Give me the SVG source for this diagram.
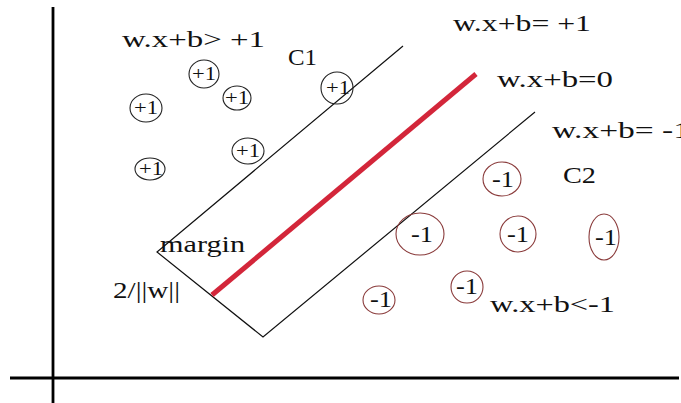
<svg xmlns="http://www.w3.org/2000/svg" width="681" height="403" viewBox="0 0 681 403">
<style>
text{font-family:"Liberation Serif","Times New Roman",serif;fill:#111}
.lbl{font-size:24px}
.pos ellipse{fill:none;stroke:#222;stroke-width:1.1}
.neg ellipse{fill:none;stroke:#8a3b3b;stroke-width:1.1}
.pos text{font-size:18px;text-anchor:middle}
.neg text{font-size:23px;text-anchor:middle}
.thin{stroke:#111;stroke-width:1.2;fill:none}
.axis{stroke:#000;stroke-width:2.8}
</style>
<rect width="681" height="403" fill="#fff"/>
<g id="axes">
<line class="axis" x1="53" y1="7" x2="53" y2="403"/>
<line class="axis" x1="10" y1="378" x2="679" y2="378"/>
</g>
<g id="connectors">
<polyline class="thin" points="403,46 157,252 263,337 535,112"/>
<line x1="212" y1="295" x2="476" y2="74" stroke="#d3263a" stroke-width="5"/>
</g>
<g id="labels">
<text class="lbl" x="122" y="47" textLength="143" lengthAdjust="spacingAndGlyphs">w.x+b&gt; +1</text>
<text class="lbl" x="288" y="65" textLength="29" lengthAdjust="spacingAndGlyphs">C1</text>
<text class="lbl" x="453" y="31" textLength="138" lengthAdjust="spacingAndGlyphs">w.x+b= +1</text>
<text class="lbl" x="497" y="87" textLength="116" lengthAdjust="spacingAndGlyphs">w.x+b=0</text>
<text class="lbl" x="552" y="138" textLength="138" lengthAdjust="spacingAndGlyphs">w.x+b= -1</text>
<text class="lbl" x="563" y="183" textLength="33" lengthAdjust="spacingAndGlyphs">C2</text>
<text class="lbl" x="160" y="252" textLength="85" lengthAdjust="spacingAndGlyphs">margin</text>
<text class="lbl" x="113" y="298" textLength="67" lengthAdjust="spacingAndGlyphs">2/||w||</text>
<text class="lbl" x="490" y="312" textLength="125" lengthAdjust="spacingAndGlyphs">w.x+b&lt;-1</text>
</g>
<g class="pos">
<g id="p1"><ellipse cx="204" cy="74" rx="15" ry="14"/><text x="204" y="80" textLength="24" lengthAdjust="spacingAndGlyphs">+1</text></g>
<g id="p2"><ellipse cx="237" cy="98" rx="14" ry="12"/><text x="237" y="104" textLength="24" lengthAdjust="spacingAndGlyphs">+1</text></g>
<g id="p3"><ellipse cx="146" cy="108" rx="16" ry="14"/><text x="146" y="114" textLength="24" lengthAdjust="spacingAndGlyphs">+1</text></g>
<g id="p4"><ellipse cx="248" cy="151" rx="16" ry="13"/><text x="248" y="157" textLength="24" lengthAdjust="spacingAndGlyphs">+1</text></g>
<g id="p5"><ellipse cx="150" cy="169" rx="15" ry="11"/><text x="151" y="175" textLength="24" lengthAdjust="spacingAndGlyphs">+1</text></g>
<g id="p6"><ellipse cx="337" cy="88" rx="16" ry="16"/><text x="338" y="94" textLength="24" lengthAdjust="spacingAndGlyphs">+1</text></g>
</g>
<g class="neg">
<g id="n1"><ellipse cx="502" cy="179" rx="19" ry="17"/><text x="503" y="187" textLength="22" lengthAdjust="spacingAndGlyphs">-1</text></g>
<g id="n2"><ellipse cx="420" cy="234" rx="24" ry="21"/><text x="422" y="242" textLength="22" lengthAdjust="spacingAndGlyphs">-1</text></g>
<g id="n3"><ellipse cx="518" cy="234" rx="18" ry="18"/><text x="518" y="242" textLength="22" lengthAdjust="spacingAndGlyphs">-1</text></g>
<g id="n4"><ellipse cx="604" cy="237" rx="15" ry="23"/><text x="606" y="245" textLength="22" lengthAdjust="spacingAndGlyphs">-1</text></g>
<g id="n5"><ellipse cx="379" cy="300" rx="16" ry="14"/><text x="381" y="307" textLength="22" lengthAdjust="spacingAndGlyphs">-1</text></g>
<g id="n6"><ellipse cx="467" cy="287" rx="16" ry="16"/><text x="467" y="294" textLength="22" lengthAdjust="spacingAndGlyphs">-1</text></g>
</g>
</svg>
